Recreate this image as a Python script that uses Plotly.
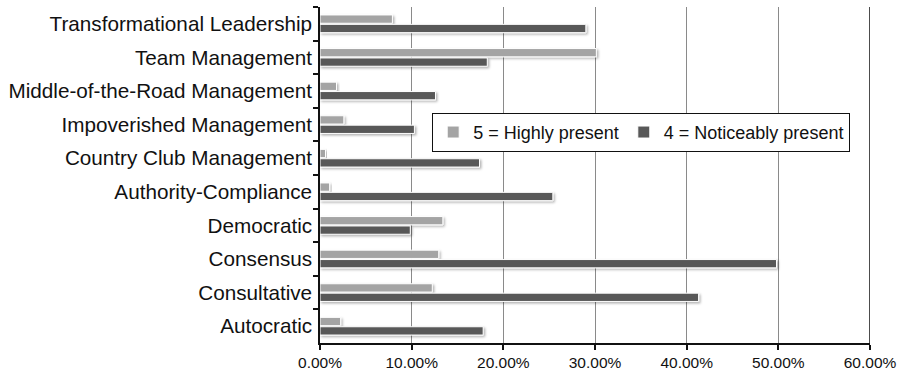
import plotly.graph_objects as go

# Leadership styles, listed top to bottom
styles = [
    "Transformational Leadership",
    "Team Management",
    "Middle-of-the-Road Management",
    "Impoverished Management",
    "Country Club Management",
    "Authority-Compliance",
    "Democratic",
    "Consensus",
    "Consultative",
    "Autocratic",
]

# Share of responses (%)
highly_present = [7.9, 30.15, 1.8, 2.6, 0.6, 1.05, 13.4, 12.95, 12.25, 2.25]
noticeably_present = [29.0, 18.25, 12.6, 10.3, 17.4, 25.4, 9.85, 49.8, 41.3, 17.8]

series_names = ["5 = Highly present", "4 = Noticeably present"]
x_ticks = [0, 10, 20, 30, 40, 50, 60]
x_tick_labels = ["0.00%", "10.00%", "20.00%", "30.00%", "40.00%", "50.00%", "60.00%"]

FONT = "Liberation Sans, Arial, sans-serif"

fig = go.Figure()
fig.add_trace(go.Bar(
    y=styles, x=highly_present, name=series_names[0], orientation="h",
    marker=dict(color="#a4a4a4", line=dict(color="#ffffff", width=1)),
))
fig.add_trace(go.Bar(
    y=styles, x=noticeably_present, name=series_names[1], orientation="h",
    marker=dict(color="#585858", line=dict(color="#ffffff", width=1)),
))

fig.update_layout(
    width=898, height=371,
    margin=dict(l=320, r=28, t=7, b=28, pad=0, autoexpand=False),
    paper_bgcolor="white", plot_bgcolor="white",
    barmode="group", bargap=0.44, bargroupgap=0.12,
    font=dict(family=FONT, color="#111111"),
    showlegend=True,
    legend=dict(
        orientation="h", x=0.204, y=0.685, xanchor="left", yanchor="top",
        bgcolor="white", bordercolor="#111111", borderwidth=1,
        font=dict(size=18, family=FONT, color="#111111"),
        traceorder="normal", itemwidth=30,
    ),
    xaxis=dict(
        range=[0, 60], tickvals=x_ticks, ticktext=x_tick_labels,
        showgrid=True, gridcolor="#8a8a8a", gridwidth=1,
        showline=True, linecolor="#111111", linewidth=1.5,
        ticks="outside", ticklen=5, tickcolor="#111111", tickwidth=1.5,
        tickfont=dict(size=15.5, family=FONT, color="#111111"),
        ticklabelstandoff=0, automargin=False,
        zeroline=False,
    ),
    yaxis=dict(
        categoryorder="array", categoryarray=styles, autorange="reversed",
        showline=True, linecolor="#111111", linewidth=1.5,
        ticks="outside", ticklen=5, tickcolor="#111111", tickwidth=1.5,
        tickson="boundaries",
        tickfont=dict(size=20.7, family=FONT, color="#111111"),
        ticklabelstandoff=2, automargin=False,
        showgrid=False, zeroline=False,
    ),
)

# Dark frame line on the right edge of the plot area
fig.add_shape(type="line", xref="x", yref="paper", x0=60, x1=60, y0=0, y1=1,
              line=dict(color="#111111", width=1.5))

# Soft drop shadow under the bars
shadow_js = """
var gd = document.getElementById('{plot_id}');
var svg = gd.querySelector('svg.main-svg');
var ns = 'http://www.w3.org/2000/svg';
var defs = svg.querySelector('defs') || svg.insertBefore(document.createElementNS(ns, 'defs'), svg.firstChild);
var f = document.createElementNS(ns, 'filter');
f.setAttribute('id', 'barshadow');
f.setAttribute('x', '-10%'); f.setAttribute('y', '-60%');
f.setAttribute('width', '130%'); f.setAttribute('height', '260%');
var ds = document.createElementNS(ns, 'feDropShadow');
ds.setAttribute('dx', '1.5'); ds.setAttribute('dy', '1.5');
ds.setAttribute('stdDeviation', '1.2');
ds.setAttribute('flood-color', '#000'); ds.setAttribute('flood-opacity', '0.3');
f.appendChild(ds);
defs.appendChild(f);
gd.querySelectorAll('.barlayer .point path').forEach(function(p) {
  p.setAttribute('filter', 'url(#barshadow)');
});
"""

fig.write_html("out.html", post_script=shadow_js)
